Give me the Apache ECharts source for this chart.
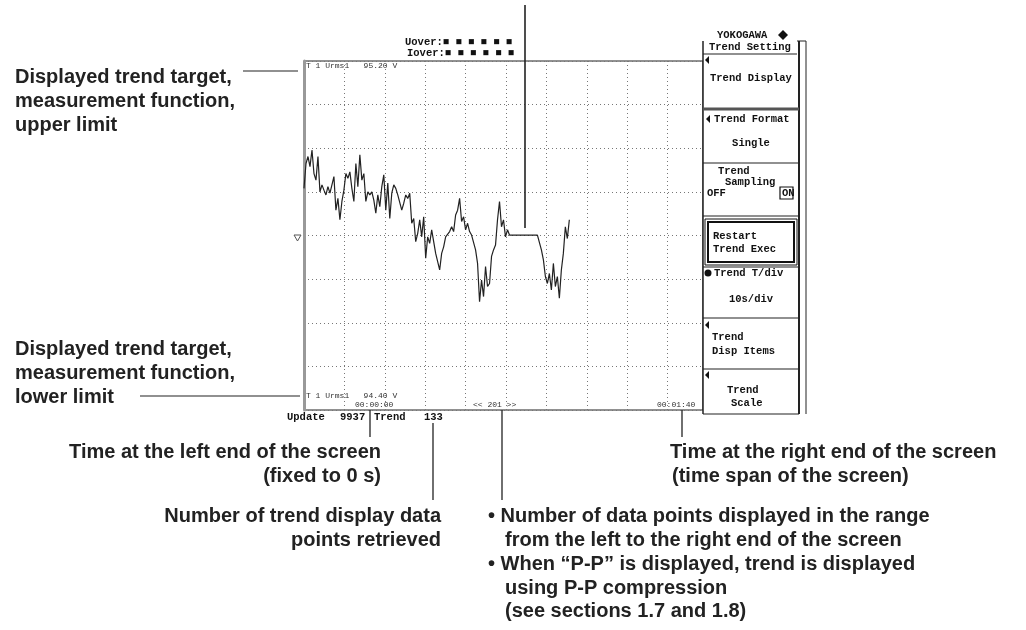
<!DOCTYPE html>
<html><head><meta charset="utf-8">
<script src="https://cdn.jsdelivr.net/npm/echarts@6/dist/echarts.min.js"></script>
<style>html,body{margin:0;padding:0;background:#fff}#c{width:1026px;height:630px}</style>
</head><body><div id="c"></div>
<script>
// ---- data ----
const SAMPLE_STEP_S = 0.5;          // 201 points across the 100 s screen
const TIME_RANGE_S = [0, 100];
const VALUE_RANGE_V = [94.40, 95.20];
const TREND_VALUES_V = [
94.908,94.965,94.981,94.958,94.996,94.942,94.927,94.981,94.900,94.916,
94.904,94.893,94.912,94.897,94.916,94.935,94.858,94.885,94.836,94.878,
94.904,94.942,94.931,94.946,94.908,94.878,94.965,94.912,94.985,94.927,
94.942,94.878,94.900,94.893,94.900,94.881,94.851,94.893,94.866,94.912,
94.939,94.858,94.920,94.839,94.897,94.916,94.908,94.893,94.889,94.858,
94.874,94.893,94.885,94.897,94.828,94.839,94.786,94.805,94.836,94.797,
94.843,94.748,94.797,94.782,94.813,94.816,94.759,94.755,94.721,94.759,
94.774,94.797,94.799,94.809,94.820,94.809,94.847,94.858,94.885,94.832,
94.843,94.813,94.828,94.809,94.801,94.797,94.767,94.736,94.648,94.698,
94.660,94.729,94.683,94.690,94.752,94.767,94.778,94.836,94.878,94.820,
94.836,94.797,94.813,94.801,94.801,94.801,94.801,94.801,94.801,94.801,
94.801,94.801,94.801,94.801,94.801,94.801,94.801,94.801,94.801,94.767,
94.744,94.706,94.690,94.713,94.675,94.736,94.683,94.706,94.656,94.721,
94.759,94.820,94.793,94.836
];
const UPPER_LABEL = 'T 1 Urms1   95.20 V';
const LOWER_LABEL = 'T 1 Urms1   94.40 V';
const LEFT_TIME = '00:00:00';
const RIGHT_TIME = '00:01:40';
const POINTS_LABEL = '<< 201 >>';
const UPDATE_COUNT = '9937';
const TREND_COUNT = '133';
const MENU_ITEMS = ['Trend Display','Trend Format','Single','Trend','Sampling','Restart','Trend Exec','Trend T/div','10s/div','Disp Items','Scale'];

// ---- chart ----
const chart = echarts.init(document.getElementById('c'), null, {renderer:'canvas'});
const seriesData = TREND_VALUES_V.map((v, i) => [i * SAMPLE_STEP_S, v]);

const MONO = '"Liberation Mono","DejaVu Sans Mono",monospace';
const SANS = '"Liberation Sans",Arial,sans-serif';
const g = [];
function txt(x, y, s, o) {
  o = o || {};
  g.push({type:'text', x:x, y:y, silent:true, z:20, style:{
    text:s, fill:o.fill||'#111', font:(o.weight||'bold')+' '+(o.size||10.5)+'px '+(o.family||MONO),
    textAlign:o.align||'left', textVerticalAlign:'middle', lineHeight:o.lh||24}});
}
function ln(x1, y1, x2, y2, w, c) {
  g.push({type:'line', silent:true, z:20, shape:{x1:x1,y1:y1,x2:x2,y2:y2}, style:{stroke:c||'#222', lineWidth:w||1}});
}
function rect(x, y, w, h, o) {
  o = o || {};
  g.push({type:'rect', silent:true, z:o.z||15, shape:{x:x,y:y,width:w,height:h}, style:{fill:o.fill||'#fff', stroke:o.stroke||'none', lineWidth:o.lw||1}});
}
function tri(x, y) { // small filled left-pointing triangle
  g.push({type:'polygon', silent:true, z:20, shape:{points:[[x,y],[x+4,y-4],[x+4,y+4]]}, style:{fill:'#111'}});
}

// annotations (bold sans)
const A = {weight:'bold', size:20, family:SANS, fill:'#222'};
const AR = Object.assign({align:'right'}, A);
txt(15, 77, 'Displayed trend target,', A);
txt(15, 101, 'measurement function,', A);
txt(15, 125, 'upper limit', A);
ln(243, 71, 298, 71, 1.2);
txt(15, 349, 'Displayed trend target,', A);
txt(15, 373, 'measurement function,', A);
txt(15, 397, 'lower limit', A);
ln(140, 396, 300, 396, 1.2);
txt(381, 452, 'Time at the left end of the screen', AR);
txt(381, 476, '(fixed to 0 s)', AR);
txt(441, 516, 'Number of trend display data', AR);
txt(441, 540, 'points retrieved', AR);
txt(488, 516, '\u2022 Number of data points displayed in the range', A);
txt(505, 540, 'from the left to the right end of the screen', A);
txt(488, 564, '\u2022 When \u201cP-P\u201d is displayed, trend is displayed', A);
txt(505, 588, 'using P-P compression', A);
txt(505, 611, '(see sections 1.7 and 1.8)', A);
txt(670, 452, 'Time at the right end of the screen', A);
txt(672, 476, '(time span of the screen)', A);
ln(370, 410, 370, 437, 1.3);
ln(433, 423, 433, 500, 1.3);
ln(502, 410, 502, 500, 1.3);
ln(682, 410, 682, 437, 1.3);
ln(525, 5, 525, 228, 1.6);

// screen text
const S = {weight:'normal', size:8, fill:'#333'};
txt(306, 66, UPPER_LABEL, S);
txt(306, 396, LOWER_LABEL, S);
txt(355, 405, LEFT_TIME, S);
txt(473, 405, POINTS_LABEL, S);
txt(657, 405, RIGHT_TIME, S);
txt(287, 417, 'Update', {});
txt(340, 417, UPDATE_COUNT, {});
txt(374, 417, 'Trend', {});
txt(424, 417, TREND_COUNT, {});
txt(405, 42, 'Uover:\u25a0 \u25a0 \u25a0 \u25a0 \u25a0 \u25a0', {});
txt(407, 53, 'Iover:\u25a0 \u25a0 \u25a0 \u25a0 \u25a0 \u25a0', {});
// level marker at left edge
g.push({type:'polyline', silent:true, z:20, shape:{points:[[294,235],[301,235],[297.5,241],[294,235]]}, style:{stroke:'#555', fill:'none', lineWidth:1}});

// right panel
txt(717, 35, 'YOKOGAWA', {size:10.5});
g.push({type:'polygon', silent:true, z:20, shape:{points:[[783,30],[788,35],[783,40],[778,35]]}, style:{fill:'#111'}});
rect(703, 41, 104, 374, {fill:'#fff'});
txt(709, 47, 'Trend Setting', {});
ln(703, 54, 797, 54, 1.2);
ln(797, 41, 806, 41, 1);
ln(799, 41, 799, 414, 2);
ln(806, 41, 806, 414, 1);
ln(703, 41, 703, 414, 1.5);
tri(705, 60);
txt(710, 78, MENU_ITEMS[0], {});
ln(703, 109, 799, 109, 3, '#555');
tri(706, 119);
txt(714, 119, MENU_ITEMS[1], {});
txt(751, 143, MENU_ITEMS[2], {align:'center'});
ln(703, 163, 799, 163, 1.2);
txt(718, 171, MENU_ITEMS[3], {});
txt(725, 182, MENU_ITEMS[4], {});
txt(707, 193, 'OFF', {});
txt(782, 193, 'ON', {});
rect(780, 187, 13, 12, {fill:'none', stroke:'#111', lw:1.2, z:21});
ln(703, 216, 799, 216, 1.2);
rect(705, 219, 92, 46, {fill:'none', stroke:'#111', lw:1, z:21});
rect(708, 222, 86, 40, {fill:'none', stroke:'#111', lw:2, z:21});
txt(713, 236, MENU_ITEMS[5], {});
txt(713, 249, MENU_ITEMS[6], {});
ln(703, 267, 799, 267, 1.2);
g.push({type:'circle', silent:true, z:20, shape:{cx:708, cy:273, r:3.5}, style:{fill:'#111'}});
txt(714, 273, MENU_ITEMS[7], {});
txt(751, 299, MENU_ITEMS[8], {align:'center'});
ln(703, 318, 799, 318, 1.2);
tri(705, 325);
txt(712, 337, MENU_ITEMS[3], {});
txt(712, 351, MENU_ITEMS[9], {});
ln(703, 369, 799, 369, 1.2);
tri(705, 375);
txt(727, 390, MENU_ITEMS[3], {});
txt(731, 403, MENU_ITEMS[10], {});
ln(703, 414, 799, 414, 1.2);

chart.setOption({
  animation:false,
  backgroundColor:'#fff',
  grid:{left:304, top:61, width:399, height:349, show:true, borderColor:'#222', borderWidth:1, backgroundColor:'#fff'},
  xAxis:{type:'value', min:TIME_RANGE_S[0], max:TIME_RANGE_S[1], interval:10.125,
    axisLine:{show:false}, axisTick:{show:false}, axisLabel:{show:false},
    splitLine:{show:true, lineStyle:{color:'#777', type:[1,3], width:1}}},
  yAxis:{type:'value', min:VALUE_RANGE_V[0], max:VALUE_RANGE_V[1], interval:0.1,
    axisLine:{show:true, onZero:false, lineStyle:{color:'#999', width:3}}, axisTick:{show:false}, axisLabel:{show:false},
    splitLine:{show:true, lineStyle:{color:'#777', type:[1,3], width:1}}},
  series:[{type:'line', data:seriesData, showSymbol:false, symbol:'none',
    lineStyle:{color:'#222', width:1.2}, z:5}],
  graphic:g
});
</script></body></html>
